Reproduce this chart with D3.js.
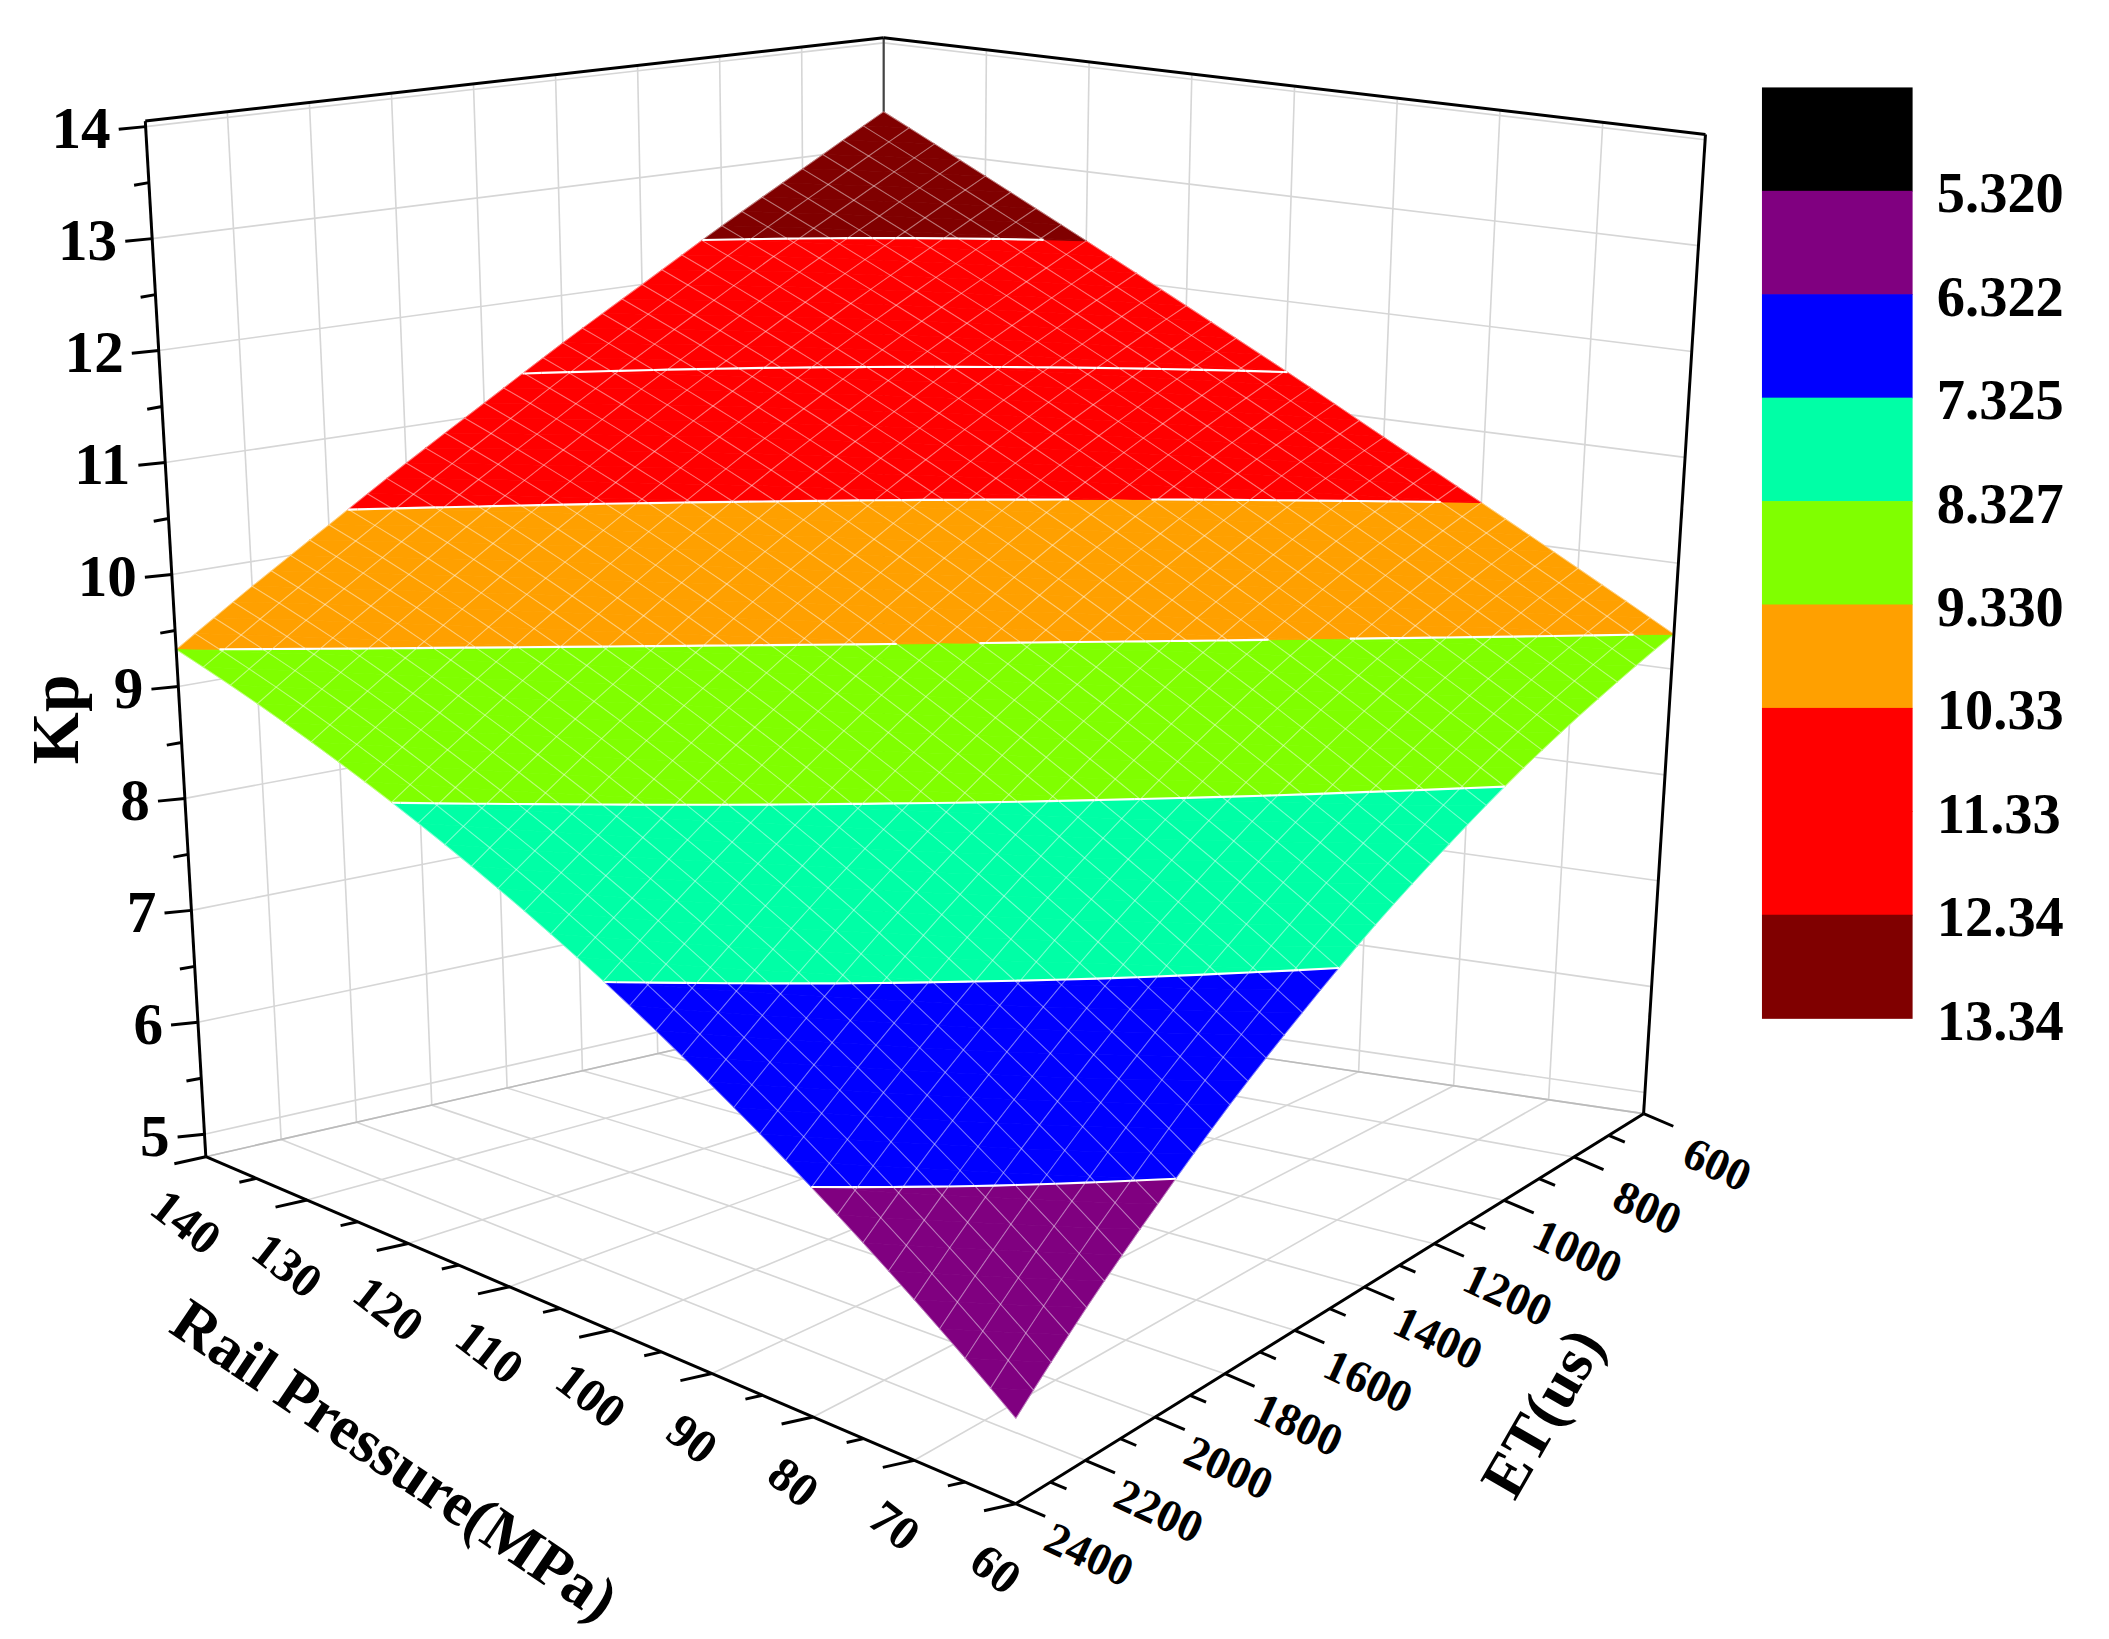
<!DOCTYPE html>
<html><head><meta charset="utf-8">
<script src="https://cdn.jsdelivr.net/npm/d3@7/dist/d3.min.js"></script>
<style>html,body{margin:0;padding:0;background:#fff}</style>
</head><body>
<svg id="c" width="2109" height="1639" viewBox="0 0 1568 1218.6"></svg>
<script>
// ---------- data ----------
const pressure = [60,70,80,90,100,110,120,130,140];          // MPa (rows)
const et = [600,800,1000,1200,1400,1600,1800,2000,2200,2400]; // us (columns)
const kp = [
 [9.33, 8.88, 8.44, 7.99, 7.55, 7.10, 6.66, 6.21, 5.77, 5.32],
 [9.83, 9.39, 8.94, 8.49, 8.05, 7.60, 7.16, 6.71, 6.27, 5.82],
 [10.33, 9.89, 9.44, 9.00, 8.55, 8.10, 7.66, 7.21, 6.77, 6.32],
 [10.83,10.39, 9.94, 9.50, 9.05, 8.61, 8.16, 7.72, 7.27, 6.82],
 [11.34,10.89,10.44,10.00, 9.55, 9.11, 8.66, 8.22, 7.77, 7.33],
 [11.84,11.39,10.95,10.50,10.05, 9.61, 9.16, 8.72, 8.27, 7.83],
 [12.34,11.89,11.45,11.00,10.56,10.11, 9.66, 9.22, 8.77, 8.33],
 [12.84,12.39,11.95,11.50,11.06,10.61,10.17, 9.72, 9.28, 8.83],
 [13.34,12.89,12.45,12.00,11.56,11.11,10.67,10.22, 9.78, 9.33]
];
const levels = [5.320,6.322,7.325,8.327,9.330,10.33,11.33,12.34,13.34];
const levelLabels = ["5.320","6.322","7.325","8.327","9.330","10.33","11.33","12.34","13.34"];
const bandColors = ["#800080","#0000ff","#00ffa6","#80ff00","#ffa000","#ff0000","#ff0000","#800000"];
const legendColors = ["#000000","#800080","#0000ff","#00ffa6","#80ff00","#ffa000","#ff0000","#ff0000","#800000"];
const zTicks = [5,6,7,8,9,10,11,12,13,14];
const pTicks = [60,70,80,90,100,110,120,130,140];
const etTicks = [600,800,1000,1200,1400,1600,1800,2000,2200,2400];

// ---------- projection ----------
const Zmin=4.8,Zmax=14.05;
const sa = d3.scaleLinear().domain([60,140]).range([0,1]);
const sb = d3.scaleLinear().domain([600,2400]).range([0,1]);
const sc = d3.scaleLinear().domain([Zmin,Zmax]).range([0,1]);
const C = {
 "000":[1222,828],"001":[1268,100],
 "010":[755,1118],"011":[760,-10],
 "100":[657,745],"101":[657,28],
 "110":[153,860],"111":[108,90]
};
function proj(P,E,Z){
  const a=sa(P),b=sb(E),c=sc(Z);
  let x=0,y=0;
  for(const i of [0,1])for(const j of [0,1])for(const k of [0,1]){
    const w=(i?a:1-a)*(j?b:1-b)*(k?c:1-c);
    const p=C[""+i+j+k]; x+=w*p[0]; y+=w*p[1];
  }
  return [x,y];
}
const svg=d3.select("#c");
const line=d3.line();
const FONT="'Liberation Serif','Times New Roman',serif";

// ---------- walls grid ----------
const g0=svg.append("g").attr("stroke","#d6d6d6").attr("stroke-width",1.2).attr("fill","none");
etTicks.forEach(e=>g0.append("path").attr("d",line([proj(140,e,Zmin),proj(140,e,Zmax)])));
zTicks.forEach(z=>g0.append("path").attr("d",line([proj(140,600,z),proj(140,2400,z)])));
pTicks.forEach(p=>g0.append("path").attr("d",line([proj(p,600,Zmin),proj(p,600,Zmax)])));
zTicks.forEach(z=>g0.append("path").attr("d",line([proj(60,600,z),proj(140,600,z)])));
etTicks.forEach(e=>g0.append("path").attr("d",line([proj(60,e,Zmin),proj(140,e,Zmin)])));
pTicks.forEach(p=>g0.append("path").attr("d",line([proj(p,600,Zmin),proj(p,2400,Zmin)])));
// back edges (behind surface)
svg.append("g").attr("stroke","#bbb").attr("stroke-width",1.2).attr("fill","none")
  .call(g=>{[[[140,2400,Zmin],[140,600,Zmin]],[[140,600,Zmin],[60,600,Zmin]]].forEach(s=>g.append("path").attr("d",line(s.map(q=>proj(...q)))));});
svg.append("path").attr("d",line([proj(140,600,Zmin),proj(140,600,Zmax)])).attr("stroke","#444").attr("stroke-width",1.6);

// ---------- surface ----------
function val(P,E){
  const i=Math.min(pressure.length-2,Math.max(0,d3.bisectRight(pressure,P)-1));
  const j=Math.min(et.length-2,Math.max(0,d3.bisectRight(et,E)-1));
  const t=(P-pressure[i])/(pressure[i+1]-pressure[i]);
  const s=(E-et[j])/(et[j+1]-et[j]);
  return (1-t)*(1-s)*kp[i][j]+t*(1-s)*kp[i+1][j]+(1-t)*s*kp[i][j+1]+t*s*kp[i+1][j+1];
}
function clip(poly,lev,keepAbove){
  const out=[];
  for(let i=0;i<poly.length;i++){
    const A=poly[i],B=poly[(i+1)%poly.length];
    const ia=keepAbove?A[2]>=lev:A[2]<=lev, ib=keepAbove?B[2]>=lev:B[2]<=lev;
    if(ia)out.push(A);
    if(ia!==ib){const t=(lev-A[2])/(B[2]-A[2]);out.push([A[0]+t*(B[0]-A[0]),A[1]+t*(B[1]-A[1]),lev]);}
  }
  return out;
}
const N=4;
const subP=[],subE=[];
for(let i=0;i<pressure.length-1;i++)for(let k=0;k<N;k++)subP.push(pressure[i]+(pressure[i+1]-pressure[i])*k/N);
subP.push(pressure[pressure.length-1]);
for(let j=0;j<et.length-1;j++)for(let k=0;k<N;k++)subE.push(et[j]+(et[j+1]-et[j])*k/N);
subE.push(et[et.length-1]);
const gs=svg.append("g");
const toPath=poly=>line(poly.map(q=>proj(q[0],q[1],q[2])))+"Z";
for(let i=0;i<subP.length-1;i++)for(let j=0;j<subE.length-1;j++){
  const pts=[[subP[i],subE[j]],[subP[i+1],subE[j]],[subP[i+1],subE[j+1]],[subP[i],subE[j+1]]].map(q=>[q[0],q[1],val(q[0],q[1])]);
  [[pts[0],pts[1],pts[2]],[pts[0],pts[2],pts[3]]].forEach(tr=>{
    for(let b=0;b<bandColors.length;b++){
      const lo=b===0?-1e9:levels[b], hi=b===bandColors.length-1?1e9:levels[b+1];
      let p=clip(tr,lo,true); if(p.length<3)continue;
      p=clip(p,hi,false); if(p.length<3)continue;
      gs.append("path").attr("d",toPath(p)).attr("fill",bandColors[b]).attr("stroke",bandColors[b]).attr("stroke-width",0.6);
    }
  });
}
const gm=svg.append("g").attr("fill","none").attr("stroke","#fff").attr("stroke-opacity",0.45).attr("stroke-width",0.8);
subP.forEach(p=>gm.append("path").attr("d",line(subE.map(e=>proj(p,e,val(p,e))))));
subE.forEach(e=>gm.append("path").attr("d",line(subP.map(p=>proj(p,e,val(p,e))))));
const gc=svg.append("g").attr("fill","none").attr("stroke","#fff").attr("stroke-width",1.6);
levels.slice(1,8).forEach(lev=>{
  for(let i=0;i<subP.length-1;i++)for(let j=0;j<subE.length-1;j++){
    const pts=[[subP[i],subE[j]],[subP[i+1],subE[j]],[subP[i+1],subE[j+1]],[subP[i],subE[j+1]]].map(q=>[q[0],q[1],val(q[0],q[1])]);
    [[pts[0],pts[1],pts[2]],[pts[0],pts[2],pts[3]]].forEach(tr=>{
      const cr=[];
      for(let k=0;k<3;k++){const A=tr[k],B=tr[(k+1)%3];
        if((A[2]-lev)*(B[2]-lev)<0){const t=(lev-A[2])/(B[2]-A[2]);cr.push(proj(A[0]+t*(B[0]-A[0]),A[1]+t*(B[1]-A[1]),lev));}}
      if(cr.length===2)gc.append("path").attr("d",line(cr));
    });
  }
});

// ---------- box edges ----------
const ge=svg.append("g").attr("stroke","#000").attr("stroke-width",2.2).attr("fill","none");
[[[140,2400,Zmin],[140,2400,Zmax]],[[60,600,Zmin],[60,600,Zmax]],
 [[140,2400,Zmax],[140,600,Zmax]],[[140,600,Zmax],[60,600,Zmax]],
 [[140,2400,Zmin],[60,2400,Zmin]],[[60,2400,Zmin],[60,600,Zmin]]].forEach(s=>
  ge.append("path").attr("d",line(s.map(q=>proj(...q)))));

// ---------- ticks ----------
const gt=svg.append("g").attr("stroke","#000").attr("stroke-width",2.2);
const gl=svg.append("g").attr("font-family",FONT).attr("font-weight","bold").attr("fill","#000");
for(let z=5;z<=14;z+=0.5){
  const p=proj(140,2400,z); const L=(z%1===0)?20:11;
  gt.append("line").attr("x1",p[0]).attr("y1",p[1]).attr("x2",p[0]-L).attr("y2",p[1]+2);
}
zTicks.forEach(z=>{const p=proj(140,2400,z);
  gl.append("text").attr("x",p[0]-26).attr("y",p[1]+16).attr("text-anchor","end").attr("font-size",44).text(z);});
const dP=[-0.975,0.22];
for(let p=60;p<=140;p+=5){
  const q=proj(p,2400,Zmin); const L=(p%10===0)?24:13;
  gt.append("line").attr("x1",q[0]).attr("y1",q[1]).attr("x2",q[0]+dP[0]*L).attr("y2",q[1]+dP[1]*L);
}
pTicks.forEach(p=>{const q=proj(p,2400,Zmin);
  gl.append("text").attr("transform",`translate(${q[0]-22},${q[1]+58}) rotate(38)`).attr("text-anchor","middle").attr("font-size",36).text(p);});
const dE=[0.92,0.39];
for(let e=600;e<=2400;e+=100){
  const q=proj(60,e,Zmin); const L=(e%200===0)?24:13;
  gt.append("line").attr("x1",q[0]).attr("y1",q[1]).attr("x2",q[0]+dE[0]*L).attr("y2",q[1]+dE[1]*L);
}
etTicks.forEach(e=>{const q=proj(60,e,Zmin);
  gl.append("text").attr("transform",`translate(${q[0]+50},${q[1]+48}) rotate(25)`).attr("text-anchor","middle").attr("font-size",34).text(e);});

gl.append("text").attr("transform","translate(285,1098) rotate(34)").attr("text-anchor","middle").attr("font-size",46).text("Rail Pressure(MPa)");
gl.append("text").attr("transform","translate(1160,1058) rotate(-60)").attr("text-anchor","middle").attr("font-size",46).text("ET(us)");
gl.append("text").attr("transform","translate(58,535) rotate(-90)").attr("text-anchor","middle").attr("font-size",50).text("Kp");

// ---------- legend ----------
const ly=d3.scaleBand().domain(d3.range(legendColors.length)).range([65,757]).paddingInner(0);
svg.append("g").selectAll("rect").data(legendColors).join("rect")
  .attr("x",1310).attr("width",112).attr("y",(d,i)=>ly(i)).attr("height",ly.bandwidth()+0.5).attr("fill",d=>d);
gl.append("g").selectAll("text").data(levelLabels).join("text")
  .attr("x",1440).attr("y",(d,i)=>ly(i)+ly.bandwidth()+16).attr("font-size",42).text(d=>d);
</script>
</body></html>
